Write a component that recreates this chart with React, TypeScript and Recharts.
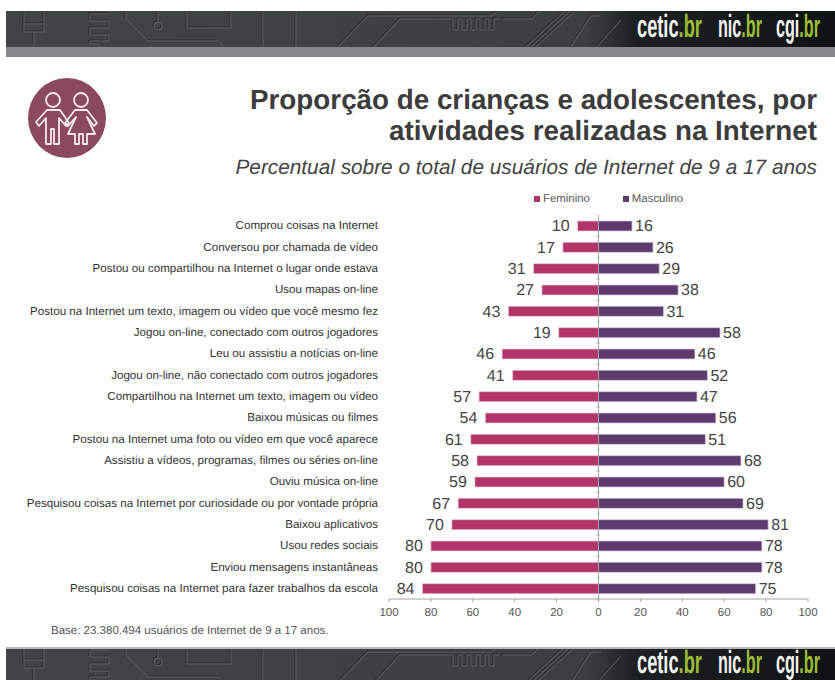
import { BarChart, Bar, XAxis, YAxis, Legend, LabelList, ReferenceLine } from 'recharts';

const categorias = [
  'Comprou coisas na Internet',
  'Conversou por chamada de vídeo',
  'Postou ou compartilhou na Internet o lugar onde estava',
  'Usou mapas on-line',
  'Postou na Internet um texto, imagem ou vídeo que você mesmo fez',
  'Jogou on-line, conectado com outros jogadores',
  'Leu ou assistiu a notícias on-line',
  'Jogou on-line, não conectado com outros jogadores',
  'Compartilhou na Internet um texto, imagem ou vídeo',
  'Baixou músicas ou filmes',
  'Postou na Internet uma foto ou vídeo em que você aparece',
  'Assistiu a vídeos, programas, filmes ou séries on-line',
  'Ouviu música on-line',
  'Pesquisou coisas na Internet por curiosidade ou por vontade própria',
  'Baixou aplicativos',
  'Usou redes sociais',
  'Enviou mensagens instantâneas',
  'Pesquisou coisas na Internet para fazer trabalhos da escola',
];
const feminino = [10, 17, 31, 27, 43, 19, 46, 41, 57, 54, 61, 58, 59, 67, 70, 80, 80, 84];
const masculino = [16, 26, 29, 38, 31, 58, 46, 52, 47, 56, 51, 68, 60, 69, 81, 78, 78, 75];
const eixoX = [-100, -80, -60, -40, -20, 0, 20, 40, 60, 80, 100];

const data = categorias.map((nome, i) => ({
  nome,
  Feminino: -feminino[i],
  Masculino: masculino[i],
}));

const FONT = '"Liberation Sans", Arial, sans-serif';

const BarLabel = ({ x, y, width, height, value }: any) => {
  const neg = value < 0;
  const px = neg ? Math.min(x, x + width) - 8 : Math.max(x, x + width) + 3;
  return (
    <text
      x={px}
      y={y + height / 2 + 1}
      textAnchor={neg ? 'end' : 'start'}
      dominantBaseline="middle"
      fill="#444"
      fontSize={16}
      fontFamily={FONT}
    >
      {Math.abs(value)}
    </text>
  );
};

// rotulo numa linha so, sem a quebra automatica do eixo
const CategoryTick = ({ x, y, payload }: any) => (
  <text x={x} y={y} dy={3.5} textAnchor="end" fill="#333" fontSize={11.6} fontFamily={FONT}>
    {payload.value}
  </text>
);

// linha do zero com as marquinhas entre as categorias
const ZeroLine = ({ x1, y1, y2 }: any) => {
  const step = (y2 - y1) / categorias.length;
  return (
    <g stroke="#a6a6a6" strokeWidth={1}>
      <line x1={x1} x2={x1} y1={y1} y2={y2} />
      {categorias.map((_, i) => (
        <line key={i} x1={x1 - 2} x2={x1 + 1} y1={y1 + i * step} y2={y1 + i * step} />
      ))}
    </g>
  );
};

const LegendContent = ({ payload }: any) => (
  <div style={{ display: 'flex', gap: 33, fontFamily: FONT, fontSize: 11.4, color: '#555' }}>
    {payload.map((p: any) => (
      <span key={p.value} style={{ display: 'flex', alignItems: 'center', gap: 3 }}>
        <span style={{ width: 6, height: 6, background: p.color, display: 'inline-block' }} />
        {p.value}
      </span>
    ))}
  </div>
);

const Logo = ({ nome, x, sx }: { nome: string; x: number; sx: number }) => (
  <text
    transform={`translate(${x} 32) scale(${sx} 1)`}
    fontFamily={FONT}
    fontWeight="bold"
    fontSize={32}
    fill="#f2f2f2"
  >
    {nome}
    <tspan fill="#9dbb35">.br</tspan>
  </text>
);

const Faixa = ({ id, top, h }: { id: string; top: number; h: number }) => (
  <>
    <svg width={835} height={h} style={{ position: 'absolute', left: 0, top }}>
      <defs>
        <linearGradient id={id} x1="0" y1="0" x2="1" y2="0">
          <stop offset="0" stopColor="#414445" />
          <stop offset="0.7" stopColor="#3c3f40" />
          <stop offset="0.76" stopColor="#1c2021" />
          <stop offset="1" stopColor="#0f1313" />
        </linearGradient>
      </defs>
      <rect x={6} y={0} width={829} height={h} fill={`url(#${id})`} />
      {['#2b2d2e', '#5c5f61'].map((cor, k) => (
        <g key={cor} fill="none" stroke={cor} strokeWidth={1} transform={`translate(${k} ${k})`}>
          <path d="M23 0v20h20v-20M23 12h20M33 20v15" />
          <path d="M108 2h-19v7h19v7h-19v7h19v6h-19v3h9v3" />
          <path d="M125 0v7l22 22h71l4 6" />
          <path d="M157 0v10" />
          <circle cx={157} cy={14} r={4} />
          <path d="M186 0v16h44v-16" />
          <path d="M262 0v35M295 0v35" />
          <path d="M337 35l30-31h123l6-4" />
          <path d="M373 35l26-28h53M502 7h29l7-7" />
          <path d="M452 7v11h5v-11h4v11h5v-11h4v11h5v-11h4v11h5v-11h4v11h5v-11h5" />
          <path d="M525 35l38-35M530 35l38-35M535 35l38-35" />
          <path d="M570 35l20-31h10" />
          <path d="M596 35l24-27" />
        </g>
      ))}
    </svg>
    {/* os logos ficam em outro svg, mais alto que a faixa, para nao cortar o texto */}
    <svg width={835} height={39} style={{ position: 'absolute', left: 0, top: top - 6 }}>
      <Logo nome="cetic" x={637} sx={0.57} />
      <Logo nome="nic" x={718} sx={0.505} />
      <Logo nome="cgi" x={776} sx={0.505} />
    </svg>
  </>
);

export default function App() {
  return (
    <div style={{ position: 'absolute', left: 0, top: 0, width: 835, height: 680, background: '#fff', overflow: 'hidden', textRendering: 'geometricPrecision' }}>
      <Faixa id="topo" top={11} h={36} />
      <div style={{ position: 'absolute', left: 6, top: 47, width: 829, height: 10, background: '#858888' }} />

      <svg width={80} height={82} style={{ position: 'absolute', left: 27, top: 77 }}>
        <ellipse cx={40} cy={41} rx={39} ry={40} fill="#8b4a5b" />
        <g fill="none" stroke="#f4e8ea" strokeWidth={1.8} strokeLinejoin="round">
          <circle cx={26} cy={23} r={7} />
          <circle cx={54} cy={23} r={7} />
          <path d="M20 33l-11 12 3 4 7-8v26h5v-15h3v15h5v-26l7 8 3-3-9-13z" />
          <path d="M48 33l-10 13 3 3 8-9-8 17h7v10h4v-10h4v10h4v-10h8l-8-17 7 9 3-3-10-13z" />
        </g>
      </svg>

      <div style={{ position: 'absolute', right: 18, top: 84, textAlign: 'right', fontFamily: FONT, fontWeight: 'bold', fontSize: 27.8, lineHeight: '31px', color: '#3c3c3c', whiteSpace: 'nowrap' }}>
        Proporção de crianças e adolescentes, por
        <br />
        atividades realizadas na Internet
      </div>
      <div style={{ position: 'absolute', right: 18, top: 155, fontFamily: FONT, fontStyle: 'italic', fontSize: 20.8, lineHeight: '26px', color: '#444', whiteSpace: 'nowrap' }}>
        Percentual sobre o total de usuários de Internet de 9 a 17 anos
      </div>

      <div style={{ position: 'absolute', left: 0, top: 0 }}>
        <BarChart
          width={835}
          height={680}
          data={data}
          layout="vertical"
          stackOffset="sign"
          barSize={10}
          margin={{ top: 215, right: 27, bottom: 51, left: 0 }}
        >
          <XAxis
            type="number"
            domain={[-100, 100]}
            ticks={eixoX}
            tickFormatter={(v: number) => String(Math.abs(v))}
            tick={{ fill: '#555', fontSize: 11.5, fontFamily: FONT }}
            stroke="#a6a6a6"
            tickSize={3}
            tickMargin={6}
            height={30}
            interval={0}
          />
          <YAxis
            type="category"
            dataKey="nome"
            width={389}
            axisLine={false}
            tickLine={false}
            tickMargin={11}
            tickSize={0}
            interval={0}
            tick={<CategoryTick />}
          />
          <Legend
            verticalAlign="middle"
            align="center"
            content={<LegendContent />}
            wrapperStyle={{ left: 534, top: 193, width: 200 }}
          />
          <Bar dataKey="Feminino" stackId="a" fill="#b23468" stroke="#ecc9d9" strokeWidth={0.7} isAnimationActive={false}>
            <LabelList dataKey="Feminino" content={<BarLabel />} />
          </Bar>
          <Bar dataKey="Masculino" stackId="a" fill="#5e3a6e" stroke="#d6c8dc" strokeWidth={0.7} isAnimationActive={false}>
            <LabelList dataKey="Masculino" content={<BarLabel />} />
          </Bar>
          <ReferenceLine x={0} shape={<ZeroLine />} />
        </BarChart>
      </div>

      <div style={{ position: 'absolute', left: 51, top: 625, fontFamily: FONT, fontSize: 11.5, color: '#555' }}>
        Base: 23.380.494 usuários de Internet de 9 a 17 anos.
      </div>

      <Faixa id="rodape" top={647} h={33} />
      <div style={{ position: 'absolute', left: 6, top: 647, width: 829, height: 2, background: '#b9baba' }} />
    </div>
  );
}
